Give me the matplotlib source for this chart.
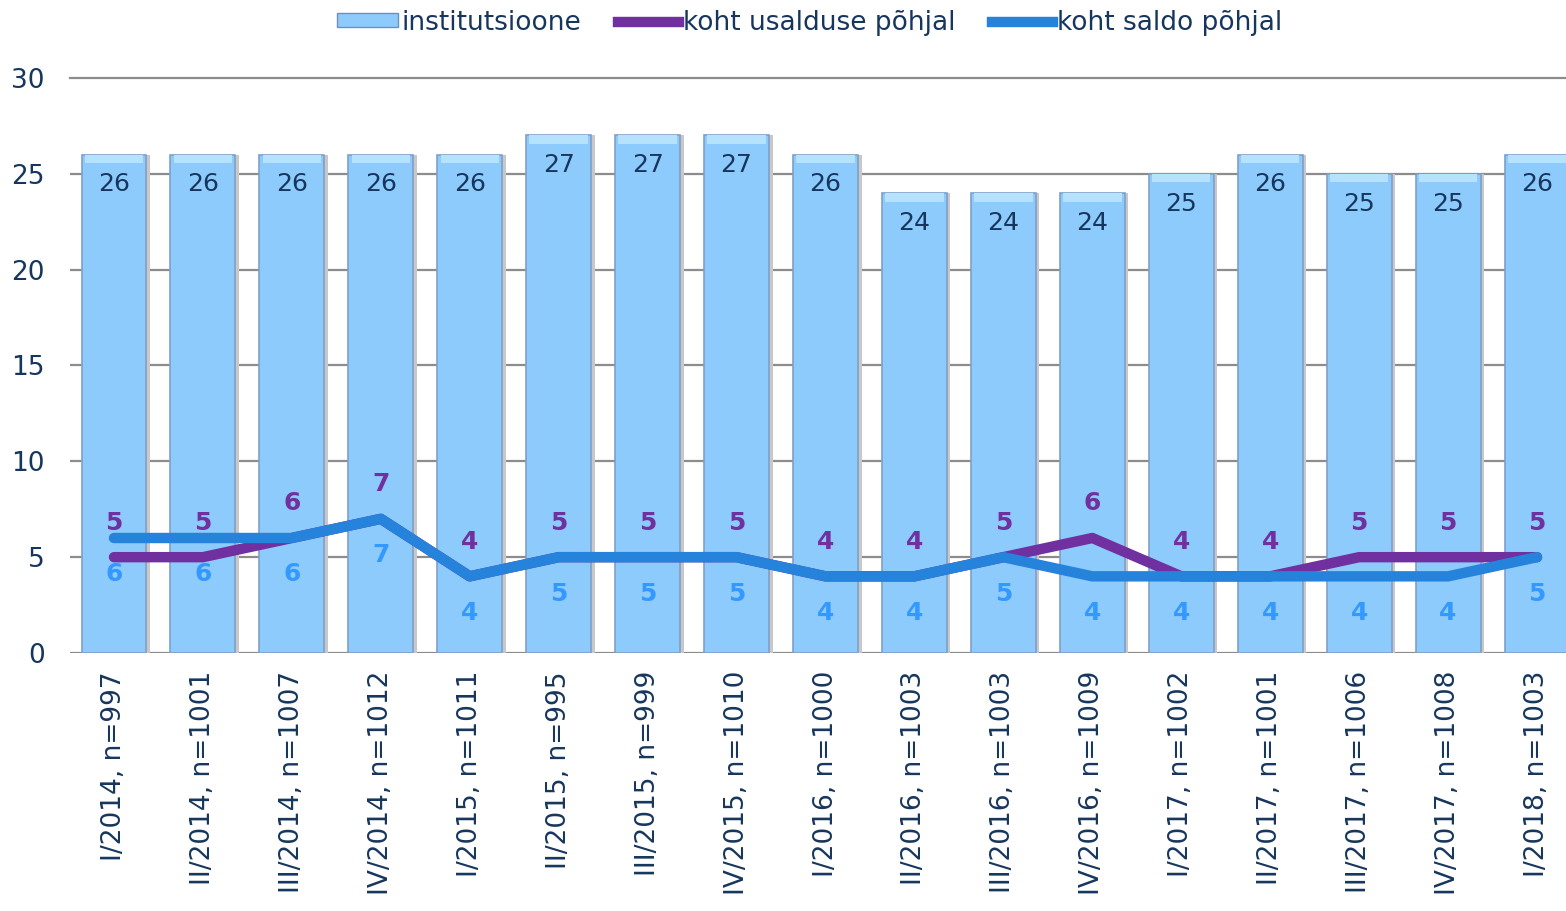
import numpy as np
import matplotlib.pyplot as plt
from matplotlib.patches import Patch
from matplotlib.lines import Line2D

labels = ["I/2014, n=997", "II/2014, n=1001", "III/2014, n=1007", "IV/2014, n=1012",
          "I/2015, n=1011", "II/2015, n=995", "III/2015, n=999", "IV/2015, n=1010",
          "I/2016, n=1000", "II/2016, n=1003", "III/2016, n=1003", "IV/2016, n=1009",
          "I/2017, n=1002", "II/2017, n=1001", "III/2017, n=1006", "IV/2017, n=1008",
          "I/2018, n=1003"]
institutsioone = [26, 26, 26, 26, 26, 27, 27, 27, 26, 24, 24, 24, 25, 26, 25, 25, 26]
usaldus = [5, 5, 6, 7, 4, 5, 5, 5, 4, 4, 5, 6, 4, 4, 5, 5, 5]
saldo = [6, 6, 6, 7, 4, 5, 5, 5, 4, 4, 5, 4, 4, 4, 4, 4, 5]

navy = "#17365D"
purple = "#7030A0"
blue = "#2683DC"
blue_lbl = "#3399FF"
bar_col = "#8ECBFD"

fig = plt.figure(figsize=(15.66, 9.11), dpi=100)
ax = fig.add_axes([69.5 / 1566, 0.2832, 1512 / 1566, 0.6312])

x = np.arange(len(labels))
w = 0.73

# shadow, bar, and lighter top bevel
ax.bar(x + 0.04, institutsioone, width=w, color="#C8C8C8", zorder=2)
ax.bar(x, institutsioone, width=w, color=bar_col, edgecolor="#7E9FC9", linewidth=1.2, zorder=3)
top = np.array(institutsioone) - 0.45
ax.bar(x, [0.45] * len(x), bottom=top, width=w * 0.9, color="#B5E3FF", zorder=3.5)

ax.plot(x, usaldus, color=purple, lw=7.5, solid_capstyle="round", solid_joinstyle="round", zorder=4)
ax.plot(x, saldo, color=blue, lw=7.5, solid_capstyle="round", solid_joinstyle="round", zorder=5)

for i in x:
    ax.text(i, institutsioone[i] - 1.55, str(institutsioone[i]), ha="center", va="center",
            fontsize=18, color=navy, zorder=6)
    ax.text(i, usaldus[i] + 1.8, str(usaldus[i]), ha="center", va="center",
            fontsize=18, color=purple, fontweight="bold", zorder=6)
    ax.text(i, saldo[i] - 1.9, str(saldo[i]), ha="center", va="center",
            fontsize=18, color=blue_lbl, fontweight="bold", zorder=6)

ax.set_xlim(-0.5, len(x) - 0.5)
ax.set_ylim(0, 30)
ax.set_yticks(range(0, 31, 5))
ax.yaxis.grid(True, color="#8C8C8C", lw=1.6, zorder=0)
ax.set_axisbelow(True)
for s in ax.spines.values():
    s.set_visible(False)
ax.tick_params(axis="y", length=0, pad=18, labelsize=19, labelcolor=navy)
ax.tick_params(axis="x", length=0, pad=13, labelsize=19, labelcolor=navy)
ax.set_xticks(x)
ax.set_xticklabels(labels, rotation=90, va="top", ha="center")
for t in ax.get_yticklabels():
    t.set_clip_on(False)
ax.get_ygridlines()[-1].set_clip_on(False)

handles = [Patch(facecolor=bar_col, edgecolor="#6E8FB8"),
           Line2D([], [], color=purple, lw=7.5),
           Line2D([], [], color=blue, lw=7.5)]
fig.legend(handles, ["institutsioone", "koht usalduse põhjal", "koht saldo põhjal"],
           loc="center", bbox_to_anchor=(0.517, 0.975), ncol=3, frameon=False,
           fontsize=19, labelcolor=navy, handlelength=2.3, handleheight=0.45,
           handletextpad=0.15, columnspacing=1.4)

fig.savefig("out.png", dpi=100)
